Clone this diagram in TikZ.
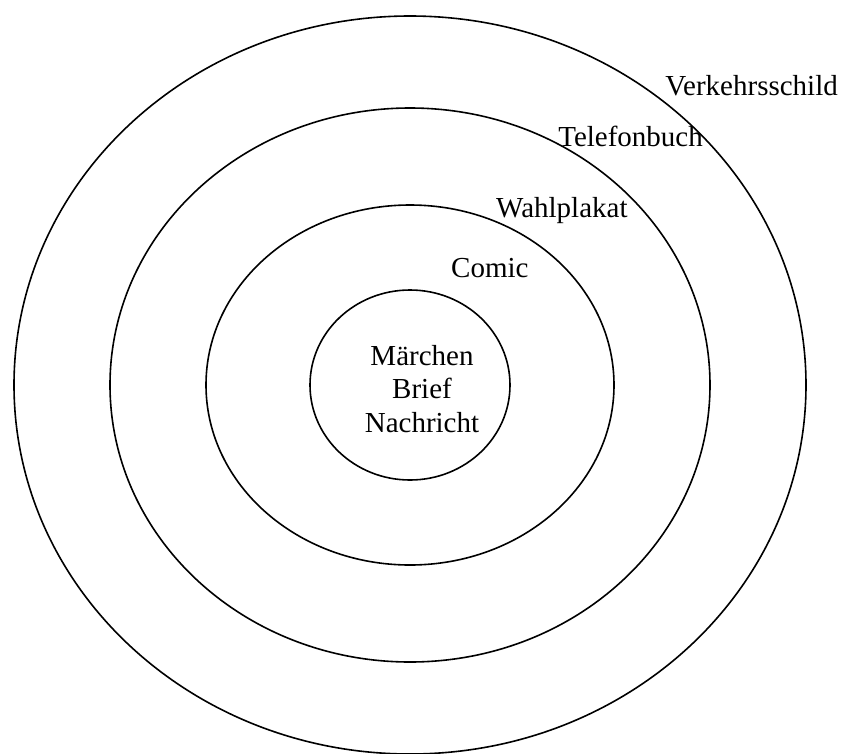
\documentclass[tikz,border=0pt]{standalone}
\usepackage{fontspec}
\setmainfont{Liberation Serif}
\begin{document}
\begin{tikzpicture}[x=1pt,y=-1pt,
  ring/.style={draw=black,line width=1.6pt},
  lbl/.style={inner sep=0pt,font=\fontsize{29}{35}\selectfont}]
\useasboundingbox (0,0) rectangle (841,753);
\coordinate (c) at (410,385);
\draw[ring] (c) ellipse [x radius=396, y radius=369];
\draw[ring] (c) ellipse [x radius=300, y radius=277];
\draw[ring] (c) ellipse [x radius=204, y radius=180];
\draw[ring] (c) ellipse [x radius=100, y radius=95];
\node[lbl,anchor=base east] (verk) at (838,95) {Verkehrsschild};
\node[lbl,anchor=base east] (tel) at (703,146) {Telefonbuch};
\node[lbl,anchor=base west] (wahl) at (496,217) {Wahlplakat};
\node[lbl,anchor=base west] (comic) at (451,277) {Comic};
\node[lbl,anchor=base] (m1) at (422,365) {Märchen};
\node[lbl,anchor=base] (m2) at (422,398) {Brief};
\node[lbl,anchor=base] (m3) at (422,432) {Nachricht};
\end{tikzpicture}
\end{document}
